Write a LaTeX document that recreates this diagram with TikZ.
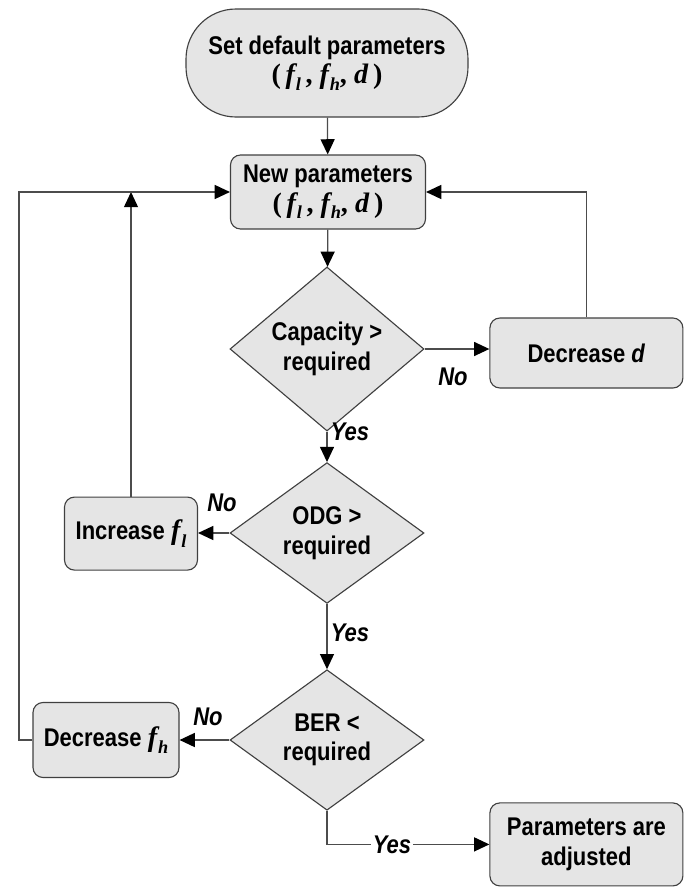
\documentclass[tikz,border=0pt]{standalone}
\usepackage{fontspec}
\setmainfont{Liberation Sans}[FakeStretch=0.86]
\newfontfamily\tms{Liberation Serif}
\usetikzlibrary{arrows.meta}
\usetikzlibrary{positioning}
\usetikzlibrary{shapes.geometric}
\newcommand{\fsub}[1]{{\tms\bfseries\itshape f}\kern.6pt\raisebox{-.5ex}{\tms\fontsize{13}{13}\selectfont\itshape #1}}
\newcommand{\ftrip}{{\tms\bfseries\fontsize{20}{20}\selectfont(\,\fsub{l}\,, \fsub{h}, \textit{d}\,)}}

\begin{document}
\begin{tikzpicture}[
        >={Triangle[length=3.8mm,width=3.5mm,color=black,fill=black]},
        every node/.style={font=\bfseries\fontsize{18.2}{21}\selectfont},
        line/.style={draw=black!70,line width=0.9pt},
        item/.style={rectangle,rounded corners=2.5mm,draw=black!75,fill=black!10,
                     line width=0.8pt,align=center,inner sep=0pt},
        startbox/.style={item,rounded corners=12.5mm},
        test/.style={diamond,draw=black!75,fill=black!10,line width=0.8pt,
                     align=center,inner sep=0pt,minimum width=4.85cm,minimum height=3.42cm},
        answer/.style={inner sep=0pt,font=\bfseries\itshape\fontsize{18.2}{21}\selectfont}
      ]
      \useasboundingbox (0,0) rectangle (17.275,-22.225);
      % boxes
      \node (start)[startbox,minimum width=7.05cm,minimum height=2.7cm] at (8.175,-1.575)
            {Set default parameters\\\ftrip};
      \node (newpar)[item,minimum width=4.875cm,minimum height=1.85cm] at (8.2,-4.8)
            {New parameters\\\ftrip};
      \node (capacity)[test] at (8.175,-8.725) {Capacity >\\required};
      \node (decd)[item,minimum width=4.825cm,minimum height=1.75cm] at (14.66,-8.825)
            {Decrease \textit{d}};
      \node (odg)[test] at (8.175,-13.325) {ODG >\\required};
      \node (incfl)[item,minimum width=3.325cm,minimum height=1.825cm] at (3.275,-13.34)
            {Increase {\fontsize{20}{20}\selectfont\fsub{l}}};
      \node (ber)[test] at (8.175,-18.5) {BER <\\required};
      \node (decfh)[item,minimum width=3.65cm,minimum height=1.875cm] at (2.65,-18.5)
            {Decrease {\fontsize{20}{20}\selectfont\fsub{h}}};
      \node (adjusted)[item,minimum width=4.825cm,minimum height=2.075cm] at (14.66,-21.11)
            {Parameters are\\adjusted};
      \coordinate (loopl) at (0.475,-4.8);
      % answers
      \node (no1)[answer] at (11.325,-9.425) {No};
      \node (yes1)[answer] at (8.75,-10.8) {Yes};
      \node (no2)[answer] at (5.55,-12.575) {No};
      \node (yes2)[answer] at (8.75,-15.825) {Yes};
      \node (no3)[answer] at (5.2,-17.925) {No};
      % connectors
      \draw[line,->] (start) -- (newpar);
      \draw[line,->] (newpar) -- (capacity);
      \draw[line,->] (capacity.east) -- (capacity.east -| decd.west);
      \draw[line,->] (decd.north) |- (newpar.east);
      \draw[line,->] (capacity) -- (odg);
      \draw[line,->] (odg.west) -- (odg.west -| incfl.east);
      \draw[line,->] (incfl.north) -- (incfl.north |- newpar.west);
      \draw[line,->] (odg) -- (ber);
      \draw[line,->] (ber.west) -- (decfh.east);
      \draw[line,->] (decfh.west) -| (loopl) -- (newpar.west);
      \draw[line,->] (ber.south) |- node (yes3)[answer,pos=0.7,fill=white,inner sep=1pt]{Yes} (adjusted.west);
    \end{tikzpicture}
\end{document}
